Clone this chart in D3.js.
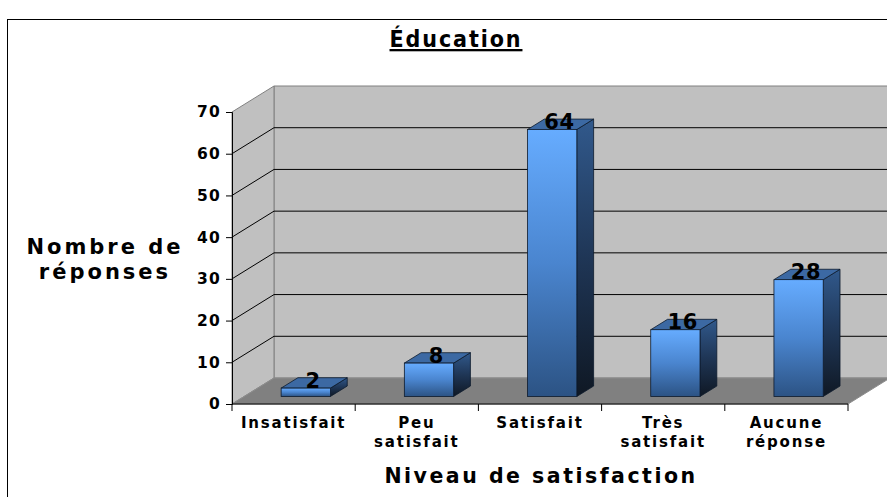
<!DOCTYPE html>
<html>
<head>
<meta charset="utf-8">
<script src="https://cdn.jsdelivr.net/npm/d3@7"></script>
<style>
  body { margin: 0; background: #fff; }
  svg { display: block; font-family: 'DejaVu Sans', Verdana, sans-serif; font-weight: bold; }
</style>
</head>
<body>
<div id="chart"></div>
<script>
// chart data
const categories = ['Insatisfait', 'Peu satisfait', 'Satisfait', 'Très satisfait', 'Aucune réponse'];
const values = [2, 8, 64, 16, 28];
const yTicks = [0, 10, 20, 30, 40, 50, 60, 70];
const title = 'Éducation';
const xTitle = 'Niveau de satisfaction';
const yTitle = ['Nombre de', 'réponses'];

const width = 887;
const height = 497;

// 3d depth offset of the plot box
const depth = { dx: 42, dy: -26 };
const barDepth = [0.29, 0.69]; // bar front / back as a fraction of the depth

const xScale = d3.scaleBand()
  .domain(categories)
  .range([232, 848])
  .padding(0);

const yScale = d3.scaleLinear()
  .domain([0, 70])
  .range([404, 112]);

const svg = d3.select('#chart')
  .append('svg')
  .attr('width', width)
  .attr('height', height);

const defs = svg.append('defs');
function grad(id, stops) {
  const g = defs.append('linearGradient')
    .attr('id', id)
    .attr('x1', 0).attr('y1', 0).attr('x2', 0).attr('y2', 1);
  stops.forEach(([o, c]) => g.append('stop').attr('offset', o).attr('stop-color', c));
}
grad('front', [[0, '#66acff'], [0.5, '#4a85cf'], [1, '#2c5384']]);
grad('side', [[0, '#31598c'], [0.5, '#1f3656'], [1, '#0f1824']]);

// chart border
svg.append('rect')
  .attr('x', 7.5).attr('y', 19.5)
  .attr('width', 900).attr('height', 500)
  .attr('fill', 'none')
  .attr('stroke', '#000')
  .attr('stroke-width', 1);

const x0 = xScale.range()[0];
const x1 = xScale.range()[1];
const y0 = yScale(0);
const yTop = yScale(70);
const pt = (x, y, d) => [x + depth.dx * d, y + depth.dy * d];
const poly = (pts) => pts.map((p) => p.join(',')).join(' ');

// walls
svg.append('polygon')
  .attr('points', poly([pt(x0, yTop, 1), pt(x1 + 60, yTop, 1), pt(x1 + 60, y0, 1), pt(x0, y0, 1)]))
  .attr('fill', '#c0c0c0')
  .attr('stroke', '#808080');
svg.append('polygon')
  .attr('points', poly([[x0, y0], [x0, yTop], pt(x0, yTop, 1), pt(x0, y0, 1)]))
  .attr('fill', '#c0c0c0')
  .attr('stroke', '#808080');
svg.append('polygon')
  .attr('points', poly([[x0, y0], [x1, y0], pt(x1, y0, 1), pt(x0, y0, 1)]))
  .attr('fill', '#808080')
  .attr('stroke', '#8c8c8c');

// gridlines
const grid = svg.append('g').attr('class', 'gridlines');
grid.selectAll('line.back')
  .data(yTicks.filter((d) => d > 0 && d < 70))
  .join('line')
  .attr('class', 'back')
  .attr('x1', x0 + depth.dx).attr('x2', width)
  .attr('y1', (d) => yScale(d) + depth.dy)
  .attr('y2', (d) => yScale(d) + depth.dy)
  .attr('stroke', '#000');
grid.selectAll('line.side')
  .data(yTicks.filter((d) => d > 0 && d < 70))
  .join('line')
  .attr('class', 'side')
  .attr('x1', x0).attr('y1', (d) => yScale(d))
  .attr('x2', x0 + depth.dx).attr('y2', (d) => yScale(d) + depth.dy)
  .attr('stroke', '#000');

// y axis
const yAxis = svg.append('g')
  .attr('class', 'y-axis')
  .attr('transform', `translate(${x0}, 0)`)
  .call(d3.axisLeft(yScale).tickValues(yTicks).tickSize(6).tickPadding(5));
yAxis.select('.domain').attr('stroke', '#000');
yAxis.selectAll('text')
  .attr('font-size', 15.5)
  .attr('font-family', 'DejaVu Sans')
  .attr('font-weight', 'bold')
  .attr('letter-spacing', 1.2)
  .attr('fill', '#000');

// x axis
const xAxis = svg.append('g')
  .attr('class', 'x-axis')
  .attr('transform', `translate(0, ${y0})`);
xAxis.append('line')
  .attr('x1', x0).attr('x2', x1)
  .attr('stroke', '#000');
xAxis.selectAll('line.tick')
  .data(categories.concat([null]))
  .join('line')
  .attr('class', 'tick')
  .attr('x1', (d) => (d ? xScale(d) : x1))
  .attr('x2', (d) => (d ? xScale(d) : x1))
  .attr('y1', 0).attr('y2', 7)
  .attr('stroke', '#000');
const catLabels = xAxis.selectAll('text')
  .data(categories)
  .join('text')
  .attr('text-anchor', 'middle')
  .attr('font-size', 15)
  .attr('letter-spacing', 1.8)
  .attr('fill', '#000');
catLabels.selectAll('tspan')
  .data((d) => d.split(' ').map((w) => ({ w, c: d })))
  .join('tspan')
  .attr('x', (d) => xScale(d.c) + xScale.bandwidth() / 2)
  .attr('y', (d, i) => 24 + i * 19)
  .text((d) => d.w);

// bars
const bw = xScale.bandwidth() * 0.4;
const fx = (d) => xScale(d.cat) + (xScale.bandwidth() - bw) / 2 + depth.dx * barDepth[0];
const fy = (v) => yScale(v) + depth.dy * barDepth[0];
const bdx = depth.dx * (barDepth[1] - barDepth[0]);
const bdy = depth.dy * (barDepth[1] - barDepth[0]);
const barData = categories.map((cat, i) => ({ cat, value: values[i] }));

const bars = svg.append('g').attr('class', 'bars')
  .selectAll('g')
  .data(barData)
  .join('g');

bars.append('polygon')
  .attr('points', (d) => {
    const x = fx(d) + bw;
    return poly([[x, fy(d.value)], [x + bdx, fy(d.value) + bdy], [x + bdx, fy(0) + bdy], [x, fy(0)]]);
  })
  .attr('fill', 'url(#side)')
  .attr('stroke', '#0d1a2c')
  .attr('stroke-width', 0.8);
bars.append('polygon')
  .attr('points', (d) => {
    const x = fx(d), y = fy(d.value);
    return poly([[x, y], [x + bw, y], [x + bw + bdx, y + bdy], [x + bdx, y + bdy]]);
  })
  .attr('fill', '#3c69a3')
  .attr('stroke', '#0d1a2c')
  .attr('stroke-width', 0.8);
bars.append('rect')
  .attr('x', (d) => fx(d))
  .attr('y', (d) => fy(d.value))
  .attr('width', bw)
  .attr('height', (d) => fy(0) - fy(d.value))
  .attr('fill', 'url(#front)')
  .attr('stroke', '#0d1a2c')
  .attr('stroke-width', 0.8);

// value labels
bars.append('text')
  .attr('x', (d) => fx(d) + bw / 2 + bdx / 2 - 1)
  .attr('y', (d) => fy(d.value) - 0.5)
  .attr('text-anchor', 'middle')
  .attr('font-size', 21)
  .attr('letter-spacing', 0.6)
  .attr('fill', '#000')
  .text((d) => d.value);

// titles
svg.append('text')
  .attr('x', 456).attr('y', 47)
  .attr('text-anchor', 'middle')
  .attr('font-family', "'DejaVu Sans Condensed', 'DejaVu Sans', sans-serif")
  .attr('font-size', 23)
  .attr('letter-spacing', 1.9)
  .style('text-decoration', 'underline')
  .text(title);

svg.append('text')
  .attr('x', 541).attr('y', 483)
  .attr('text-anchor', 'middle')
  .attr('font-size', 20.5)
  .attr('letter-spacing', 2.5)
  .text(xTitle);

svg.append('text')
  .attr('text-anchor', 'middle')
  .attr('font-size', 21)
  .attr('letter-spacing', 3)
  .selectAll('tspan')
  .data(yTitle)
  .join('tspan')
  .attr('x', 105)
  .attr('y', (d, i) => 254 + i * 25)
  .text((d) => d);
</script>
</body>
</html>
